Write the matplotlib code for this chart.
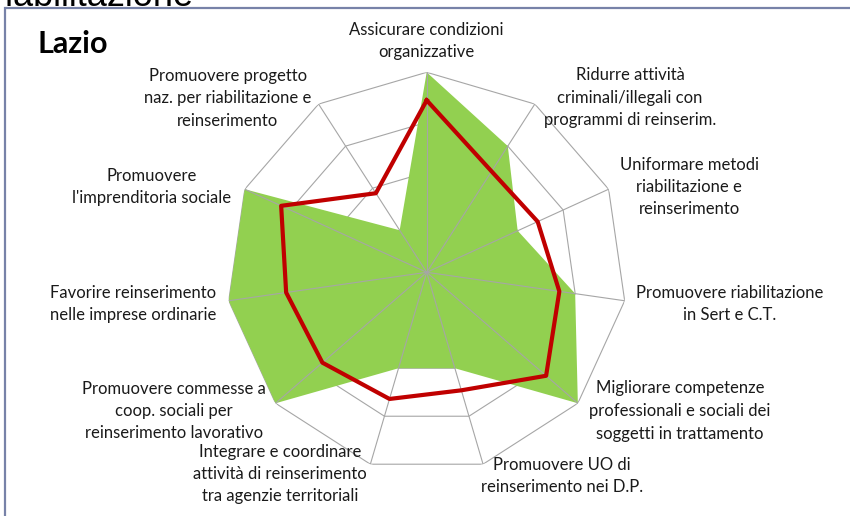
import numpy as np
import matplotlib
matplotlib.use("Agg")
import matplotlib.pyplot as plt
from matplotlib.patches import Rectangle

plt.rcParams["font.family"] = ["Lato", "DejaVu Sans"]

# Axis labels, clockwise from the top
categories = [
    "Assicurare condizioni\norganizzative",
    "Ridurre attività\ncriminali/illegali con\nprogrammi di reinserim.",
    "Uniformare metodi\nriabilitazione e\nreinserimento",
    "Promuovere riabilitazione\nin Sert e C.T.",
    "Migliorare competenze\nprofessionali e sociali dei\nsoggetti in trattamento",
    "Promuovere UO di\nreinserimento nei D.P.",
    "Integrare e coordinare\nattività di reinserimento\ntra agenzie territoriali",
    "Promuovere commesse a\ncoop. sociali per\nreinserimento lavorativo",
    "Favorire reinserimento\nnelle imprese ordinarie",
    "Promuovere\nl'imprenditoria sociale",
    "Promuovere progetto\nnaz. per riabilitazione e\nreinserimento",
]

# Regional scores (green area) and average (red line)
lazio = [4, 3, 2, 3, 4, 2, 2, 4, 4, 4, 1]
media = [3.44, 2.40, 2.44, 2.68, 3.16, 2.46, 2.64, 2.76, 2.84, 3.20, 1.88]
rings = [1, 2, 3, 4]

# label centres in pixels (x, y from top)
label_pos = [(426, 41), (630, 98), (689, 187), (730, 304), (680, 411),
             (562, 476), (280, 474), (174, 411), (133, 304), (152, 187),
             (228, 98)]

W, H = 850, 516
fig = plt.figure(figsize=(W / 100, H / 100), dpi=100)

# frame of the chart area
fig.add_artist(Rectangle((5 / W, -0.1), 1.0, 1.1 - 8 / H, transform=fig.transFigure,
                         fill=False, edgecolor="#7782a8", linewidth=1.6))
# cut-off heading above the chart
fig.text(-6 / W, 1 - 6 / H, "riabilitazione", fontsize=26, family="Liberation Sans",
         ha="left", va="baseline", color="black")

cx, cy, R = 426.7, 272.3, 200
ax = fig.add_axes([(cx - R) / W, 1 - (cy + R) / H, 2 * R / W, 2 * R / H], polar=True)
ax.set_theta_zero_location("N")
ax.set_theta_direction(-1)
ax.set_ylim(0, 4)
ax.grid(False)
ax.set_xticks([])
ax.set_yticks([])
ax.spines["polar"].set_visible(False)
ax.patch.set_alpha(0)

n = len(categories)
angles = np.linspace(0, 2 * np.pi, n, endpoint=False)
closed = np.append(angles, angles[0])

for r in rings:
    ax.plot(closed, [r] * (n + 1), color="#a6a6a6", lw=0.8, zorder=1)

ax.fill(closed, lazio + lazio[:1], color="#92d050", zorder=2, lw=0)

for a in angles:
    ax.plot([a, a], [0, rings[-1]], color="#a6a6a6", lw=0.8, zorder=3)

ax.plot(closed, media + media[:1], color="#c00000", lw=3.0, zorder=4)

for text, (x, y) in zip(categories, label_pos):
    fig.text(x / W, 1 - y / H, text, ha="center", va="center", fontsize=12,
             linespacing=1.5, color="#1a1a1a")

fig.text(37 / W, 1 - 44 / H, "Lazio", fontsize=22, fontweight="bold",
         ha="left", va="center")

fig.savefig("out.png", dpi=100)
